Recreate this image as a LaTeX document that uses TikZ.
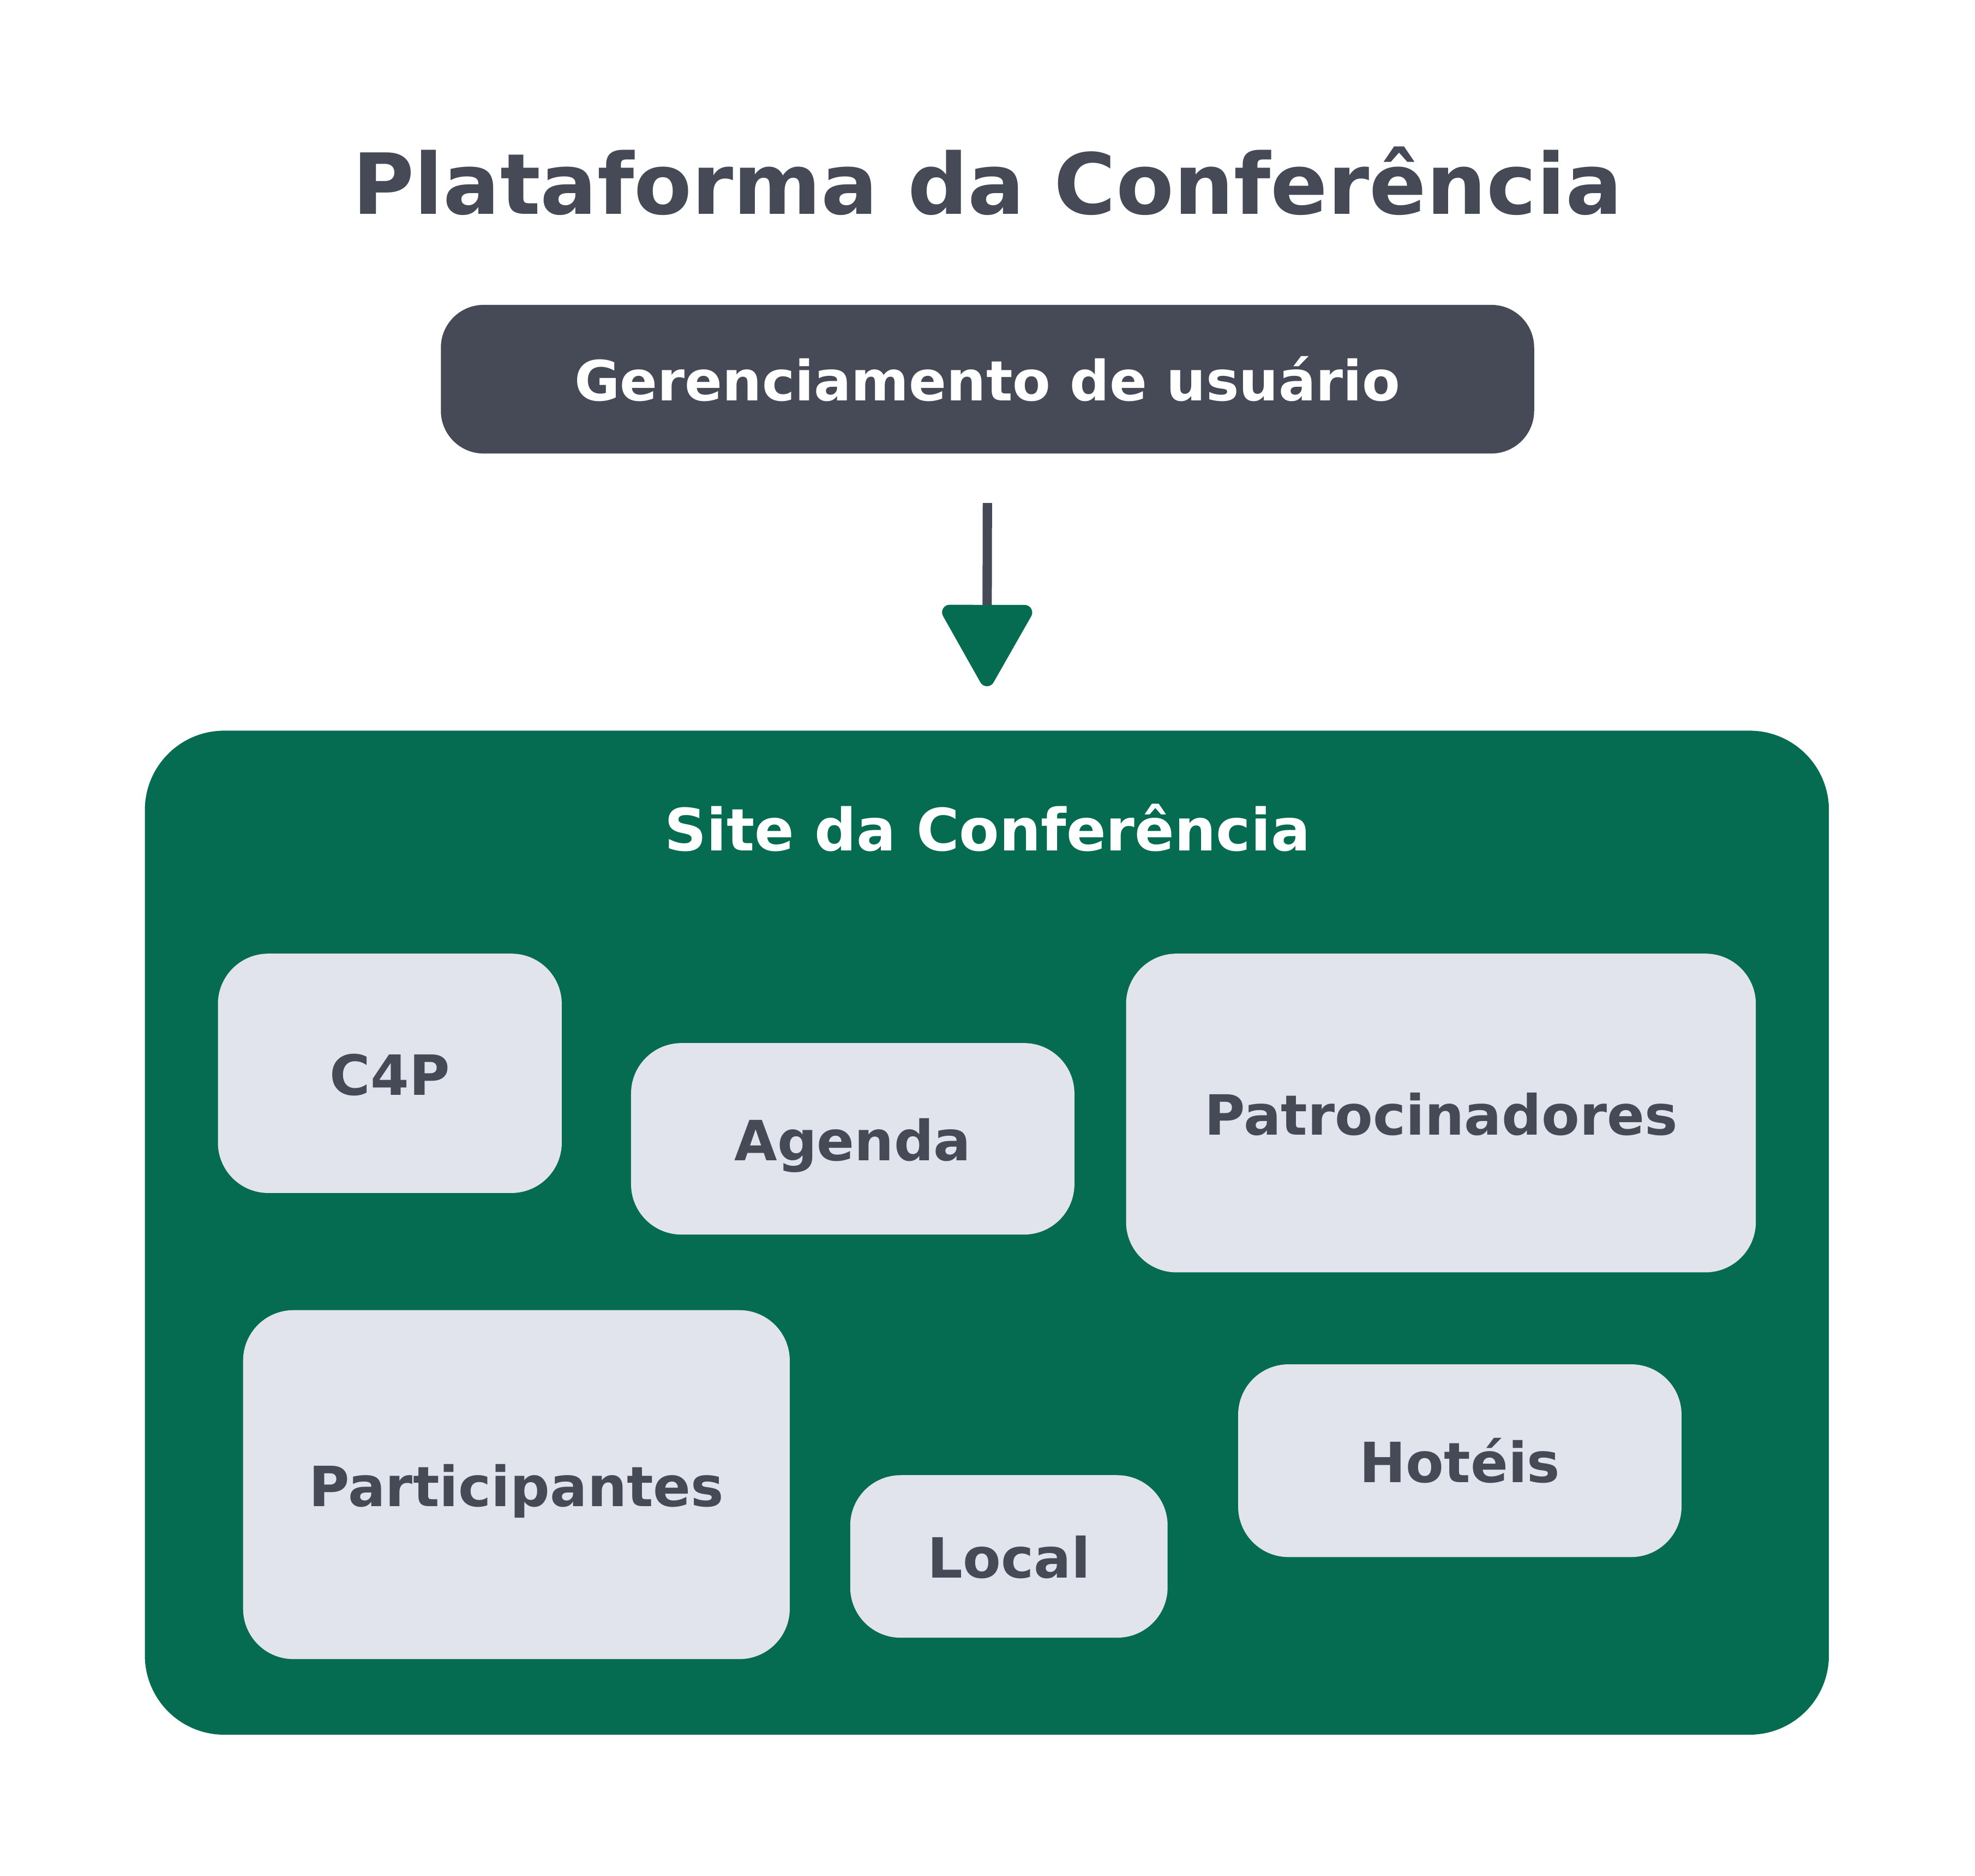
\documentclass[tikz,border=0pt]{standalone}
\usepackage{fontspec}
\setmainfont{DejaVu Sans}
\usetikzlibrary{arrows.meta}
\definecolor{darkgray}{HTML}{464A56}
\definecolor{sitegreen}{HTML}{056C52}
\definecolor{lightbox}{HTML}{E1E4EC}
\tikzset{
  labelfont/.style={font=\fontsize{31.3}{36}\selectfont\bfseries},
  module/.style={labelfont, fill=lightbox, text=darkgray, draw=none,
    rounded corners=1cm, inner sep=0pt, text height=0.86cm, text depth=0pt, align=center},
  topbox/.style={labelfont, fill=darkgray, text=white, draw=none,
    rounded corners=0.85cm, inner sep=0pt, text height=0.86cm, text depth=0pt},
  sitebox/.style={fill=sitegreen, draw=none, rounded corners=1.575cm, inner sep=0pt},
  flow/.style={draw=darkgray, line width=0.185cm,
    -{Triangle[length=1.78cm, width=1.92cm, round, color=sitegreen, fill=sitegreen, line width=0.3cm]}}
}
\begin{document}
\begin{tikzpicture}[x=0.025cm, y=-0.025cm]
\useasboundingbox (0,0) rectangle (1568,1489);
\fill[white] (0,0) rectangle (1568,1489);

\node[anchor=base, text=darkgray, font=\fontsize{47.6}{56}\selectfont\bfseries] (title) at (784,170) {Plataforma da Conferência};

\node[topbox, minimum width=868*0.025cm, minimum height=118*0.025cm] (ger) at (784,301) {Gerenciamento de usuário};

\node[sitebox, minimum width=1337*0.025cm, minimum height=797*0.025cm] (site) at (783.5,978.5) {};
\node[anchor=base, text=white, font=\fontsize{33}{40}\selectfont\bfseries] (sitelabel) at (784,675.5) {Site da Conferência};

\node[module, minimum width=273*0.025cm, minimum height=190*0.025cm] (c4p) at (309.5,852) {C4P};
\node[module, minimum width=352*0.025cm, minimum height=152*0.025cm] (agenda) at (677,904) {Agenda};
\node[module, minimum width=500*0.025cm, minimum height=253*0.025cm] (patro) at (1144,883.5) {Patrocinadores};
\node[module, minimum width=434*0.025cm, minimum height=277*0.025cm] (part) at (410,1178.5) {Participantes};
\node[module, minimum width=252*0.025cm, minimum height=129*0.025cm] (local) at (801,1235.5) {Local};
\node[module, minimum width=352*0.025cm, minimum height=153*0.025cm] (hoteis) at (1159,1159.5) {Hotéis};

\draw[flow, shorten <=0.975cm, shorten >=0.875cm] (ger.south) -- (site.north);
\end{tikzpicture}
\end{document}
